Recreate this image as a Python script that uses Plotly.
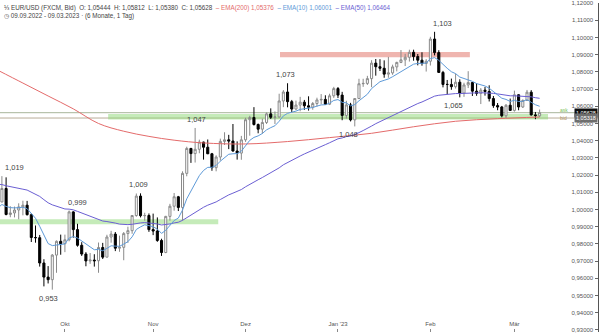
import pandas as pd
import plotly.graph_objects as go

# --- EUR/USD daily candles (FXCM, Bid), 09.09.2022 - 09.03.2023 ---
dates = [d.strftime("%Y-%m-%d") for d in pd.bdate_range("2022-09-09", "2023-03-09")]

opens = [
    1.0003, 1.0044, 1.0122, 0.9971, 0.9980, 0.9997, 1.0015, 1.0025, 0.9970, 0.9837,
    0.9836, 0.9689, 0.9607, 0.9592, 0.9735, 0.9815, 0.9801, 0.9824, 0.9986, 0.9883,
    0.9792, 0.9741, 0.9701, 0.9706, 0.9702, 0.9779, 0.9723, 0.9840, 0.9857, 0.9775,
    0.9780, 0.9860, 0.9877, 0.9965, 1.0078, 0.9964, 0.9965, 0.9883, 0.9875, 0.9820,
    0.9750, 0.9960, 1.0019, 1.0074, 1.0012, 1.0210, 1.0355, 1.0325, 1.0350, 1.0392,
    1.0362, 1.0324, 1.0243, 1.0305, 1.0396, 1.0405, 1.0398, 1.0340, 1.0328, 1.0405,
    1.0522, 1.0535, 1.0494, 1.0467, 1.0506, 1.0556, 1.0536, 1.0538, 1.0631, 1.0683,
    1.0627, 1.0584, 1.0607, 1.0624, 1.0603, 1.0595, 1.0616, 1.0637, 1.0640, 1.0612,
    1.0661, 1.0703, 1.0665, 1.0547, 1.0608, 1.0521, 1.0645, 1.0731, 1.0733, 1.0761,
    1.0851, 1.0830, 1.0821, 1.0787, 1.0794, 1.0829, 1.0855, 1.0870, 1.0885, 1.0914,
    1.0889, 1.0868, 1.0849, 1.0862, 1.0991, 1.0912, 1.0797, 1.0727, 1.0727, 1.0714,
    1.0740, 1.0677, 1.0724, 1.0738, 1.0688, 1.0675, 1.0694, 1.0686, 1.0645, 1.0604,
    1.0596, 1.0545, 1.0606, 1.0576, 1.0667, 1.0596, 1.0634, 1.0682, 1.0550, 1.05444,
]
highs = [
    1.0112, 1.0194, 1.0187, 1.0019, 1.0017, 1.0036, 1.0051, 1.0050, 0.9977, 0.9907,
    0.9852, 0.9711, 0.9671, 0.9741, 0.9820, 0.9854, 0.9854, 0.9994, 0.9990, 0.9917,
    0.9810, 0.9752, 0.9747, 0.9740, 0.9808, 0.9806, 0.9853, 0.9876, 0.9869, 0.9848,
    0.9869, 0.9900, 0.9967, 1.0093, 1.0094, 0.9981, 0.9977, 0.9976, 0.9954, 0.9830,
    0.9963, 1.0033, 1.0096, 1.0079, 1.0222, 1.0365, 1.0358, 1.0474, 1.0406, 1.0394,
    1.0407, 1.0329, 1.0315, 1.0412, 1.0449, 1.0434, 1.0497, 1.0396, 1.0428, 1.0533,
    1.0545, 1.0595, 1.0500, 1.0528, 1.0564, 1.0588, 1.0570, 1.0673, 1.0694, 1.0734,
    1.0637, 1.0633, 1.0655, 1.0637, 1.0658, 1.0625, 1.0650, 1.0671, 1.0664, 1.0673,
    1.0713, 1.0712, 1.0684, 1.0632, 1.0620, 1.0647, 1.0760, 1.0760, 1.0777, 1.0868,
    1.0875, 1.0874, 1.0867, 1.0887, 1.0842, 1.0859, 1.0927, 1.0905, 1.0929, 1.0929,
    1.0904, 1.0914, 1.0874, 1.1004, 1.1033, 1.0926, 1.0806, 1.0753, 1.0761, 1.0790,
    1.0757, 1.0737, 1.0804, 1.0740, 1.0734, 1.0706, 1.0712, 1.0722, 1.0660, 1.0619,
    1.0602, 1.0613, 1.0645, 1.0691, 1.0669, 1.0640, 1.0695, 1.0694, 1.0567, 1.05812,
]
lows = [
    0.9990, 1.0042, 0.9966, 0.9955, 0.9954, 0.9943, 0.9966, 0.9965, 0.9811, 0.9807,
    0.9668, 0.9553, 0.9570, 0.9534, 0.9632, 0.9737, 0.9752, 0.9815, 0.9836, 0.9784,
    0.9730, 0.9670, 0.9684, 0.9668, 0.9632, 0.9712, 0.9721, 0.9807, 0.9758, 0.9754,
    0.9705, 0.9806, 0.9859, 0.9958, 0.9954, 0.9935, 0.9870, 0.9851, 0.9812, 0.9730,
    0.9746, 0.9935, 0.9993, 0.9991, 0.9936, 1.0193, 1.0271, 1.0273, 1.0327, 1.0290,
    1.0322, 1.0225, 1.0222, 1.0284, 1.0375, 1.0351, 1.0336, 1.0290, 1.0289, 1.0393,
    1.0429, 1.0488, 1.0443, 1.0440, 1.0497, 1.0526, 1.0497, 1.0535, 1.0595, 1.0594,
    1.0566, 1.0580, 1.0571, 1.0579, 1.0575, 1.0580, 1.0598, 1.0612, 1.0610, 1.0607,
    1.0649, 1.0648, 1.0519, 1.0529, 1.0512, 1.0483, 1.0644, 1.0713, 1.0724, 1.0711,
    1.0778, 1.0805, 1.0766, 1.0766, 1.0783, 1.0803, 1.0851, 1.0834, 1.0860, 1.0865,
    1.0838, 1.0836, 1.0802, 1.0837, 1.0896, 1.0794, 1.0710, 1.0669, 1.0696, 1.0703,
    1.0652, 1.0655, 1.0706, 1.0660, 1.0661, 1.0613, 1.0662, 1.0628, 1.0591, 1.0577,
    1.0536, 1.0532, 1.0578, 1.0569, 1.0577, 1.0590, 1.0633, 1.0546, 1.0525, 1.05380,
]
closes = [
    1.0042, 1.0122, 0.9971, 0.9980, 0.9997, 1.0015, 1.0025, 0.9970, 0.9837, 0.9836,
    0.9689, 0.9607, 0.9592, 0.9735, 0.9815, 0.9801, 0.9824, 0.9986, 0.9883, 0.9792,
    0.9741, 0.9701, 0.9706, 0.9702, 0.9779, 0.9723, 0.9840, 0.9857, 0.9775, 0.9780,
    0.9860, 0.9877, 0.9965, 1.0078, 0.9964, 0.9965, 0.9883, 0.9875, 0.9820, 0.9750,
    0.9960, 1.0019, 1.0074, 1.0012, 1.0210, 1.0355, 1.0325, 1.0350, 1.0392, 1.0362,
    1.0324, 1.0243, 1.0305, 1.0396, 1.0405, 1.0398, 1.0340, 1.0328, 1.0405, 1.0522,
    1.0535, 1.0494, 1.0467, 1.0506, 1.0556, 1.0536, 1.0538, 1.0631, 1.0683, 1.0627,
    1.0584, 1.0607, 1.0624, 1.0603, 1.0595, 1.0616, 1.0637, 1.0640, 1.0612, 1.0661,
    1.0703, 1.0665, 1.0547, 1.0608, 1.0521, 1.0645, 1.0731, 1.0733, 1.0761, 1.0851,
    1.0830, 1.0821, 1.0787, 1.0794, 1.0829, 1.0855, 1.0870, 1.0885, 1.0914, 1.0889,
    1.0868, 1.0849, 1.0862, 1.0991, 1.0912, 1.0797, 1.0727, 1.0727, 1.0714, 1.0740,
    1.0677, 1.0724, 1.0738, 1.0688, 1.0675, 1.0694, 1.0686, 1.0645, 1.0604, 1.0596,
    1.0545, 1.0606, 1.0576, 1.0667, 1.0596, 1.0634, 1.0682, 1.0550, 1.0546, 1.05628,
]

# --- moving averages shown on the chart ---
ema10 = [
    1.0008, 1.0029, 1.0018, 1.0011, 1.0009, 1.0010, 1.0013, 1.0005, 0.9974, 0.9949,
    0.9902, 0.9848, 0.9802, 0.9790, 0.9794, 0.9795, 0.9800, 0.9834, 0.9843, 0.9834,
    0.9817, 0.9796, 0.9780, 0.9766, 0.9768, 0.9760, 0.9774, 0.9789, 0.9787, 0.9786,
    0.9799, 0.9813, 0.9841, 0.9884, 0.9899, 0.9911, 0.9906, 0.9900, 0.9886, 0.9861,
    0.9879, 0.9905, 0.9936, 0.9950, 0.9997, 1.0062, 1.0110, 1.0154, 1.0197, 1.0227,
    1.0245, 1.0245, 1.0256, 1.0281, 1.0304, 1.0321, 1.0324, 1.0325, 1.0339, 1.0373,
    1.0402, 1.0419, 1.0428, 1.0442, 1.0463, 1.0476, 1.0487, 1.0513, 1.0544, 1.0559,
    1.0564, 1.0572, 1.0582, 1.0586, 1.0587, 1.0593, 1.0601, 1.0608, 1.0609, 1.0618,
    1.0634, 1.0639, 1.0623, 1.0620, 1.0602, 1.0610, 1.0632, 1.0650, 1.0670, 1.0703,
    1.0726, 1.0743, 1.0751, 1.0759, 1.0772, 1.0787, 1.0802, 1.0817, 1.0835, 1.0845,
    1.0849, 1.0849, 1.0851, 1.0877, 1.0883, 1.0867, 1.0842, 1.0821, 1.0801, 1.0790,
    1.0770, 1.0762, 1.0757, 1.0745, 1.0732, 1.0725, 1.0718, 1.0705, 1.0686, 1.0670,
    1.0647, 1.0640, 1.0628, 1.0635, 1.0628, 1.0629, 1.0639, 1.0623, 1.0609, 1.06001,
]
ema50 = [
    1.0146, 1.0145, 1.0138, 1.0132, 1.0127, 1.0122, 1.0118, 1.0113, 1.0102, 1.0091,
    1.0076, 1.0057, 1.0039, 1.0027, 1.0019, 1.0010, 1.0003, 1.0002, 0.9998, 0.9989,
    0.9980, 0.9969, 0.9959, 0.9949, 0.9942, 0.9933, 0.9930, 0.9927, 0.9921, 0.9915,
    0.9913, 0.9912, 0.9914, 0.9920, 0.9922, 0.9924, 0.9922, 0.9920, 0.9916, 0.9910,
    0.9912, 0.9916, 0.9922, 0.9926, 0.9937, 0.9953, 0.9968, 0.9983, 0.9999, 1.0013,
    1.0025, 1.0034, 1.0044, 1.0058, 1.0072, 1.0085, 1.0095, 1.0104, 1.0116, 1.0132,
    1.0147, 1.0161, 1.0173, 1.0186, 1.0200, 1.0214, 1.0226, 1.0242, 1.0260, 1.0274,
    1.0286, 1.0299, 1.0311, 1.0323, 1.0333, 1.0344, 1.0356, 1.0367, 1.0377, 1.0388,
    1.0400, 1.0411, 1.0416, 1.0424, 1.0427, 1.0436, 1.0447, 1.0459, 1.0470, 1.0485,
    1.0499, 1.0511, 1.0522, 1.0533, 1.0544, 1.0557, 1.0569, 1.0581, 1.0594, 1.0606,
    1.0616, 1.0625, 1.0635, 1.0649, 1.0659, 1.0664, 1.0667, 1.0669, 1.0671, 1.0674,
    1.0674, 1.0676, 1.0678, 1.0678, 1.0678, 1.0679, 1.0679, 1.0678, 1.0675, 1.0672,
    1.0667, 1.0665, 1.0661, 1.0661, 1.0659, 1.0658, 1.0659, 1.0655, 1.0650, 1.06464,
]
ema200_idx = [0, 6, 12, 18, 24, 30, 36, 42, 49, 59, 69, 79, 89, 99, 109, 119, 129]
ema200 = [1.0810, 1.0735, 1.0660, 1.0585, 1.0500, 1.0455, 1.0425, 1.0403, 1.0387,
          1.0381, 1.0395, 1.0418, 1.0443, 1.0481, 1.0513, 1.0528, 1.05376]

# --- drawn zones and horizontal lines (price levels) ---
support_low = (0.9914, 0.9944)
support_high = (1.0523, 1.0555)
resistance = (1.0885, 1.0915)
ask_level = 1.05628
bid_level = 1.05318

# --- axis labels ---
month_idx = [16, 37, 59, 81, 103, 123]
month_labels = ["Okt", "Nov", "Dez", "Jan '23", "Feb", "Mär"]
y_ticks = [round(0.93 + 0.01 * k, 2) for k in range(20)]

FONT = "Liberation Sans, Arial, sans-serif"
C_EMA200 = "#e46b6b"
C_EMA10 = "#5e9ad8"
C_EMA50 = "#6b5fd3"


def de(v, nd):
    return f"{v:.{nd}f}".replace(".", ",")


fig = go.Figure()

fig.add_trace(go.Candlestick(
    x=dates, open=opens, high=highs, low=lows, close=closes,
    increasing=dict(fillcolor="white", line=dict(color="#8a8a8a", width=1)),
    decreasing=dict(fillcolor="black", line=dict(color="black", width=1)),
    whiskerwidth=0, hoverinfo="skip",
))
fig.add_trace(go.Scatter(x=[dates[i] for i in ema200_idx], y=ema200, mode="lines",
                         line=dict(color=C_EMA200, width=1, shape="spline"),
                         hoverinfo="skip"))
fig.add_trace(go.Scatter(x=dates, y=ema50, mode="lines",
                         line=dict(color=C_EMA50, width=1), hoverinfo="skip"))
fig.add_trace(go.Scatter(x=dates, y=ema10, mode="lines",
                         line=dict(color=C_EMA10, width=1), hoverinfo="skip"))

shapes = [
    dict(type="rect", xref="x", yref="y", x0=-1, x1=52.5,
         y0=support_low[0], y1=support_low[1],
         fillcolor="rgba(140,215,115,0.5)", line=dict(width=0), layer="below"),
    dict(type="rect", xref="x", yref="y", x0=26.3, x1=131,
         y0=support_high[0], y1=support_high[1],
         fillcolor="rgba(140,215,115,0.5)", line=dict(width=0), layer="below"),
    dict(type="rect", xref="x", yref="y", x0=67.2, x1=112.4,
         y0=resistance[0], y1=resistance[1],
         fillcolor="rgba(225,120,110,0.55)", line=dict(width=0), layer="below"),
    dict(type="line", xref="paper", yref="y", x0=0, x1=1, y0=ask_level, y1=ask_level,
         line=dict(color="#a8b59a", width=1), layer="below"),
    dict(type="line", xref="paper", yref="y", x0=0, x1=1, y0=bid_level, y1=bid_level,
         line=dict(color="#b8ad98", width=1), layer="below"),
]

annotations = []

# swing high / low labels
swing_labels = [
    (4.1, highs[1], "top"), (12.0, lows[13], "bottom"), (19.0, highs[17], "top"),
    (33.4, highs[34], "top"), (47.4, highs[47], "top"), (68.4, highs[69], "top"),
    (83.4, lows[85], "bottom"), (105.8, highs[104], "top"), (108.6, lows[110], "bottom"),
]
for xi, val, side in swing_labels:
    annotations.append(dict(
        x=xi, y=val, xref="x", yref="y", text=de(val, 3), showarrow=False,
        xanchor="center", yanchor="bottom" if side == "top" else "top",
        yshift=2 if side == "top" else -2,
        font=dict(family=FONT, size=7.5, color="#444444"),
    ))

# header lines
last = len(closes) - 1
header = (
    f"⅓ EUR/USD (FXCM, Bid)&nbsp; O: {de(opens[last], 5)}&nbsp; H: {de(highs[last], 5)}"
    f"&nbsp; L: {de(lows[last], 5)}&nbsp; C: {de(closes[last], 5)}&nbsp; "
    f"<span style='color:{C_EMA200}'>– EMA(200) {de(ema200[-1], 5)}</span>&nbsp; "
    f"<span style='color:{C_EMA10}'>– EMA(10) {de(ema10[-1], 5)}</span>&nbsp; "
    f"<span style='color:{C_EMA50}'>– EMA(50) {de(ema50[-1], 5)}</span>"
)
annotations.append(dict(x=0.004, y=1 - 5 / 333, xref="paper", yref="paper", text=header,
                        showarrow=False, xanchor="left", yanchor="middle",
                        font=dict(family=FONT, size=6.3, color="#444444")))
annotations.append(dict(x=0.004, y=1 - 13 / 333, xref="paper", yref="paper",
                        text="◷ 09.09.2022 - 09.03.2023 · (6 Monate, 1 Tag)",
                        showarrow=False, xanchor="left", yanchor="middle",
                        font=dict(family=FONT, size=6.3, color="#444444")))

# ask / bid markers on the right
annotations.append(dict(x=134.8, y=ask_level, xref="x", yref="y", text="ask", showarrow=False,
                        yshift=3, font=dict(family=FONT, size=5, color="#7cbf5a")))
annotations.append(dict(x=134.8, y=bid_level, xref="x", yref="y", text="bid", showarrow=False,
                        yshift=0, font=dict(family=FONT, size=5, color="#b0905e")))
annotations.append(dict(x=1, y=ask_level, xref="paper", yref="y", text=de(ask_level, 5),
                        showarrow=False, xanchor="right", yanchor="middle",
                        bgcolor="#111111", borderpad=1,
                        font=dict(family=FONT, size=5.5, color="white")))
annotations.append(dict(x=1, y=bid_level, xref="paper", yref="y", text=de(bid_level, 5),
                        showarrow=False, xanchor="right", yanchor="middle",
                        bgcolor="#6e6e6e", borderpad=1,
                        font=dict(family=FONT, size=5.5, color="white")))

fig.update_layout(
    width=600, height=333,
    margin=dict(l=0, r=2, t=0, b=0),
    paper_bgcolor="white", plot_bgcolor="white",
    showlegend=False,
    shapes=shapes, annotations=annotations,
    font=dict(family=FONT),
    xaxis=dict(
        type="category", categoryorder="array", categoryarray=dates,
        range=[0.548, 142.9], rangeslider=dict(visible=False),
        showgrid=False, zeroline=False, showline=False,
        tickvals=[dates[i] for i in month_idx], ticktext=month_labels,
        ticks="inside", ticklen=3, tickcolor="#888888",
        ticklabelposition="inside", ticklabeloverflow="allow",
        tickfont=dict(family=FONT, size=6, color="#555555"),
    ),
    yaxis=dict(
        side="right", range=[0.92878, 1.12005],
        tickvals=y_ticks, ticktext=[de(v, 5) for v in y_ticks],
        ticks="inside", ticklen=3, tickcolor="#666666",
        ticklabelposition="inside", ticklabeloverflow="allow",
        tickfont=dict(family=FONT, size=6, color="#555555"),
        showgrid=False, zeroline=False, showline=True, linecolor="#555555", linewidth=1,
    ),
)

fig.write_html("out.html")
